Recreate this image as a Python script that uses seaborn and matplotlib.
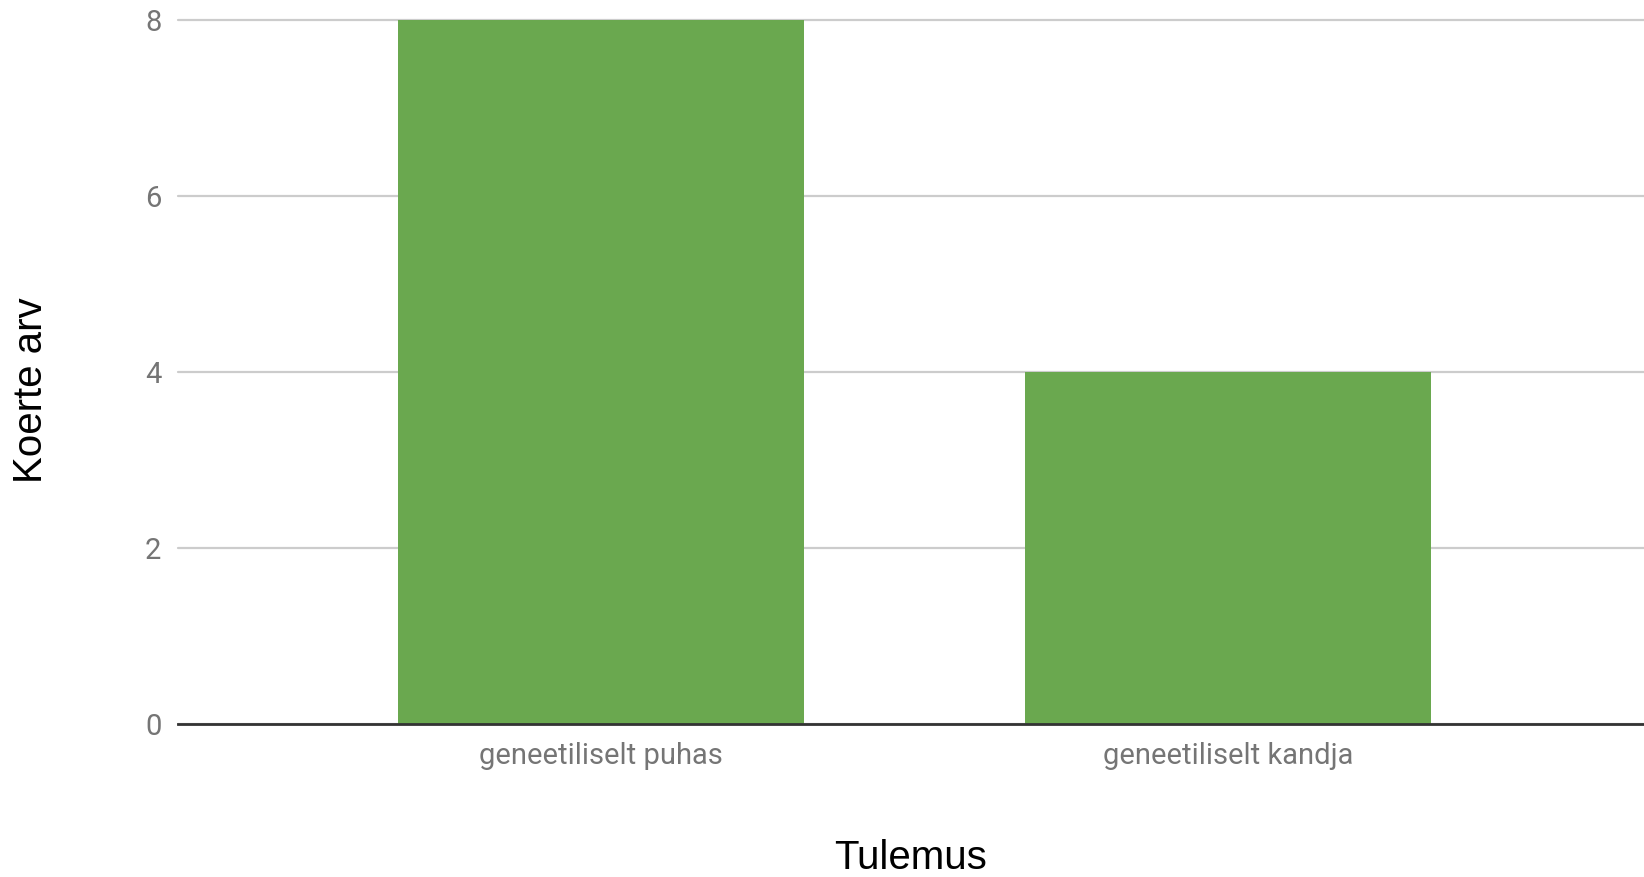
import matplotlib
matplotlib.use("Agg")
import matplotlib.pyplot as plt
import seaborn as sns
import pandas as pd

# Andmed
tulemused = ["geneetiliselt puhas", "geneetiliselt kandja"]
koerte_arv = [8, 4]
y_ticks = [0, 2, 4, 6, 8]

df = pd.DataFrame({"Tulemus": tulemused, "Koerte arv": koerte_arv})

sns.set_theme(style="white")
plt.rcParams["font.family"] = ["Roboto", "DejaVu Sans"]

fig = plt.figure(figsize=(16.44, 8.77), dpi=100)
ax = fig.add_axes([178 / 1644, (877 - 724) / 877, 1466 / 1644, 704 / 877])

sns.barplot(data=df, x="Tulemus", y="Koerte arv", color="#6aa84f",
            saturation=1, width=0.648, linewidth=0, ax=ax, zorder=2)

ax.set_xlim(-0.675, 1.663)
ax.set_ylim(0, 8)
ax.set_yticks(y_ticks)
ax.grid(axis="y", color="#cccccc", linewidth=1.6, zorder=0)
ax.set_axisbelow(True)
for g in ax.get_ygridlines():
    g.set_clip_on(False)
for side in ["top", "right", "left"]:
    ax.spines[side].set_visible(False)
ax.spines["bottom"].set_color("#333333")
ax.spines["bottom"].set_linewidth(2)
ax.spines["bottom"].set_zorder(3)

ax.tick_params(axis="both", length=0, colors="#757575", labelsize=21)
ax.tick_params(axis="y", pad=12)
ax.tick_params(axis="x", pad=13)

ax.set_xlabel("Tulemus", fontsize=29, family=["Liberation Sans"], color="black")
ax.set_ylabel("Koerte arv", fontsize=29, family=["Liberation Sans"], color="black")
ax.xaxis.label.set_va("center")
ax.yaxis.label.set_va("center")
ax.xaxis.set_label_coords(0.5, -0.19)
ax.yaxis.set_label_coords(-0.1003, 0.474)

fig.savefig("out.png", dpi=100)
